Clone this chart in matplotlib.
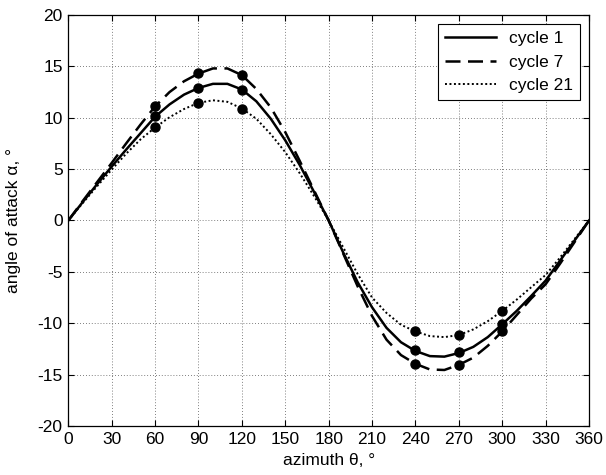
import numpy as np
import matplotlib
matplotlib.use('Agg')
import matplotlib.pyplot as plt

plt.rcParams['font.family'] = ['Liberation Sans', 'DejaVu Sans']
plt.rcParams['axes.unicode_minus'] = False

# azimuth grid of the curves (deg)
azimuth = list(range(0, 361, 10))

cycle1 = [0, 1.8, 3.55, 5.25, 6.9, 8.5, 10.1, 11.3, 12.25, 12.9, 13.3, 13.3, 12.75,
          11.6, 9.9, 7.8, 5.4, 2.75, 0,
          -3.1, -6.0, -8.45, -10.45, -11.85, -12.7, -13.2, -13.25, -12.9, -12.3,
          -11.35, -10.1, -8.8, -7.35, -5.85, -3.9, -1.95, 0]
cycle7 = [0, 1.9, 3.75, 5.6, 7.5, 9.35, 11.1, 12.5, 13.55, 14.3, 14.8, 14.8, 14.15,
          12.8, 11.0, 8.6, 5.8, 2.9, 0,
          -3.2, -6.4, -9.3, -11.6, -13.1, -13.95, -14.5, -14.55, -14.05, -13.35,
          -12.2, -10.8, -9.2, -7.6, -6.2, -4.2, -2.1, 0]
cycle21 = [0, 1.7, 3.35, 4.95, 6.5, 7.9, 9.05, 10.05, 10.85, 11.45, 11.7, 11.55, 10.9,
           9.9, 8.4, 6.65, 4.6, 2.35, 0,
           -2.6, -5.2, -7.5, -9.0, -10.15, -10.8, -11.25, -11.35, -11.15, -10.6,
           -9.8, -8.8, -7.7, -6.5, -5.3, -3.6, -1.8, 0]

# measured points
pt_az = [60, 90, 120, 240, 270, 300]
pt_c1 = [10.13, 12.88, 12.72, -12.6, -12.82, -10.07]
pt_c7 = [11.13, 14.34, 14.15, -13.97, -14.05, -10.78]
pt_c21 = [9.06, 11.46, 10.87, -10.78, -11.13, -8.77]

fig = plt.figure(figsize=(6.06, 4.75), dpi=100)
ax = fig.add_axes([0.1127, 0.1032, 0.8593, 0.8652])

ax.plot(azimuth, cycle1, '-', color='k', lw=1.8, label='cycle 1')
ax.plot(azimuth, cycle7, color='k', lw=1.8, linestyle=(0, (6, 3)), label='cycle 7')
ax.plot(azimuth, cycle21, color='k', lw=1.4, linestyle=(0, (1, 1.3)), label='cycle 21')

for vals in (pt_c1, pt_c7, pt_c21):
    ax.plot(pt_az, vals, 'o', color='k', ms=6.5, zorder=5)

ax.set_xlim(0, 360)
ax.set_ylim(-20, 20)
ax.set_xticks(range(0, 361, 30))
ax.set_yticks(range(-20, 21, 5))
ax.grid(True, linestyle=(0, (1, 2.5)), color='#555555', lw=0.6)
ax.tick_params(direction='in', top=True, right=True, length=4, labelsize=12.5, pad=4)
for s in ax.spines.values():
    s.set_linewidth(0.9)

ax.set_xlabel('azimuth θ, °', fontsize=12.5, labelpad=5)
ax.set_ylabel('angle of attack α, °', fontsize=12.5, labelpad=12)

leg = ax.legend(loc='upper right', fontsize=12.5, fancybox=False, framealpha=1,
                edgecolor='k', handlelength=2.9, borderaxespad=0.5)
leg.get_frame().set_linewidth(0.8)

fig.savefig('out.png', dpi=100)
